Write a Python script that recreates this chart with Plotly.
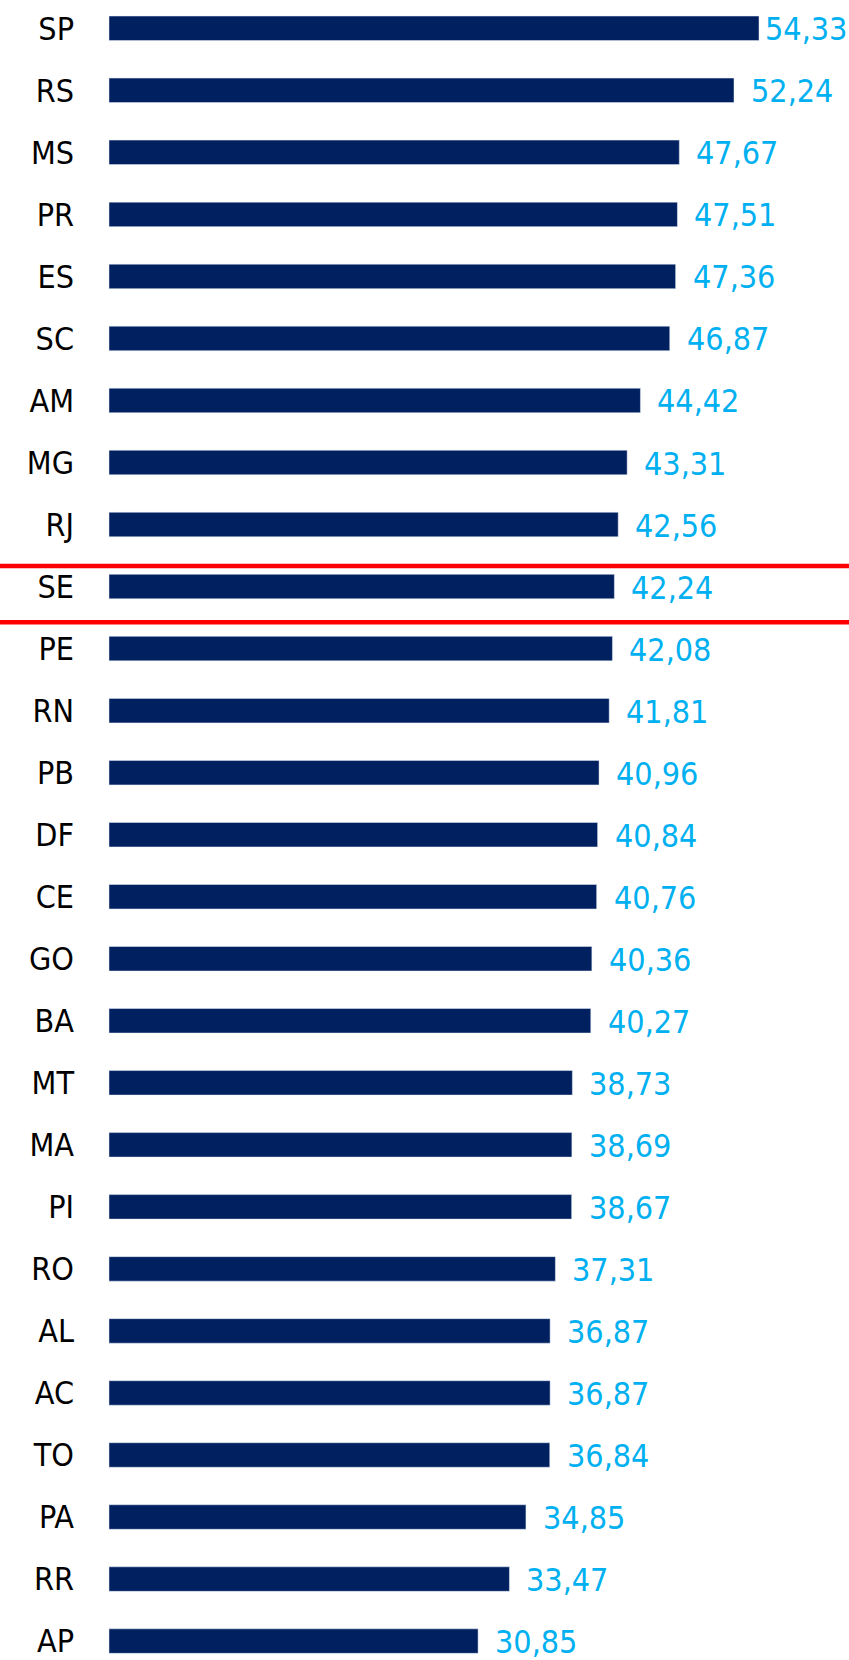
import plotly.graph_objects as go

states = ["SP", "RS", "MS", "PR", "ES", "SC", "AM", "MG", "RJ", "SE", "PE", "RN", "PB", "DF",
          "CE", "GO", "BA", "MT", "MA", "PI", "RO", "AL", "AC", "TO", "PA", "RR", "AP"]
values = [54.33, 52.24, 47.67, 47.51, 47.36, 46.87, 44.42, 43.31, 42.56, 42.24, 42.08, 41.81,
          40.96, 40.84, 40.76, 40.36, 40.27, 38.73, 38.69, 38.67, 37.31, 36.87, 36.87, 36.84,
          34.85, 33.47, 30.85]
highlight = "SE"

W, H = 849, 1660
FONT = "Liberation Sans Narrow, Arial Narrow, DejaVu Sans Condensed, sans-serif"
px_per_unit = 11.964
zero_px = 109
cat_px = 62.03
first_center = 28.3

x_range = [-zero_px / px_per_unit, (W - zero_px) / px_per_unit]
y_top = -first_center / cat_px
y_bottom = y_top + H / cat_px

fig = go.Figure()
fig.add_trace(go.Bar(
    x=values, y=states, orientation="h",
    marker=dict(color="#002060"),
    width=0.395,
    hoverinfo="x+y",
))

labels = [f"{v:.2f}".replace(".", ",") for v in values]
annotations = []
for s, v, t in zip(states, values, labels):
    shift = 15
    if v == max(values):
        shift = 4
    annotations.append(dict(
        x=v, y=s, xref="x", yref="y", text=t, showarrow=False,
        xanchor="left", yanchor="middle", xshift=shift, yshift=-1,
        font=dict(family=FONT, size=32, color="#00B0F0"),
    ))

idx = states.index(highlight)
shapes = []
for off in (-0.33, 0.575):
    shapes.append(dict(
        type="line", xref="x", yref="y",
        x0=x_range[0], x1=x_range[1], y0=idx + off, y1=idx + off,
        line=dict(color="#FF0000", width=4.5),
    ))

fig.update_layout(
    width=W, height=H,
    margin=dict(l=0, r=0, t=0, b=0),
    paper_bgcolor="white", plot_bgcolor="white",
    showlegend=False,
    annotations=annotations,
    shapes=shapes,
    xaxis=dict(range=x_range, visible=False, domain=[0, 1]),
    yaxis=dict(
        type="category", range=[y_bottom, y_top],
        anchor="free", position=zero_px / W,
        showgrid=False, zeroline=False, showline=False,
        ticks="", ticklabelstandoff=35,
        tickfont=dict(family=FONT, size=32, color="#000000"),
    ),
)

fig.write_html("out.html", config={"displayModeBar": False},
               post_script="document.body.style.margin='0px';")
